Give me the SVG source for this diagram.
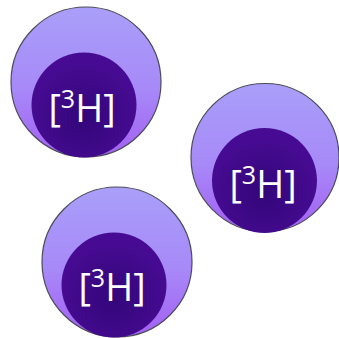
<svg xmlns="http://www.w3.org/2000/svg" width="339" height="338" viewBox="0 0 339 338">
<defs>
<linearGradient id="outer" x1="0" y1="0" x2="0" y2="1">
<stop offset="0" stop-color="#a99ff9"/>
<stop offset="0.55" stop-color="#a789f8"/>
<stop offset="1" stop-color="#a35ff3"/>
</linearGradient>
<radialGradient id="inner" cx="0.5" cy="0.62" r="0.55">
<stop offset="0" stop-color="#33067a"/>
<stop offset="1" stop-color="#470b93"/>
</radialGradient>
</defs>
<style>
.o{fill:url(#outer);stroke:#4a4a5a;stroke-width:1.2}
.i{fill:url(#inner)}
.t{font-family:"Open Sans","Noto Sans","Liberation Sans",sans-serif;font-size:38px;fill:#ffffff;text-anchor:middle}
.s{font-size:25px}
</style>
<g id="atom1">
<circle class="o" cx="86" cy="82" r="75"/>
<circle class="i" cx="84" cy="105" r="52.5"/>
<text class="t" x="82" y="122">[<tspan class="s" dy="-14">3</tspan><tspan dy="14">H]</tspan></text>
</g>
<g id="atom2">
<circle class="o" cx="265" cy="157.5" r="74"/>
<circle class="i" cx="264.5" cy="180.5" r="52.5"/>
<text class="t" x="263" y="198">[<tspan class="s" dy="-14">3</tspan><tspan dy="14">H]</tspan></text>
</g>
<g id="atom3">
<circle class="o" cx="117" cy="262" r="75"/>
<circle class="i" cx="114" cy="285" r="52.5"/>
<text class="t" x="112" y="301">[<tspan class="s" dy="-14">3</tspan><tspan dy="14">H]</tspan></text>
</g>
</svg>
